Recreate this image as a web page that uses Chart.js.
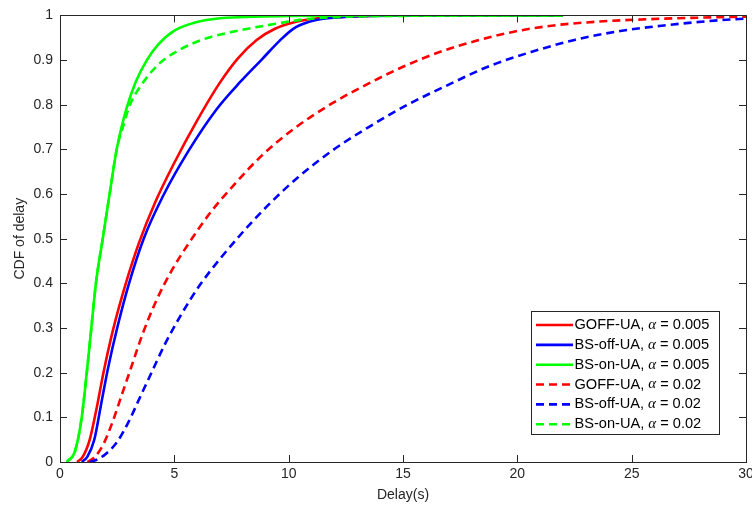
<!DOCTYPE html>
<html>
<head>
<meta charset="utf-8">
<title>CDF of delay</title>
<script src="https://cdn.jsdelivr.net/npm/chart.js@4/dist/chart.umd.min.js"></script>
<style>
  html, body { margin: 0; padding: 0; background: #ffffff; }
  #wrap { width: 752px; height: 514px; position: relative; }
</style>
</head>
<body>
<div id="wrap"><canvas id="cdf"></canvas></div>
<script>
// Delay samples (s) and CDF values for each scheme
const goffA005X  = [0.75, 1.0, 1.3, 1.6, 1.9, 2.33, 2.85, 3.45, 4.15, 5.0, 6.0, 7.0, 7.8, 8.6, 9.4, 10.2, 11.2, 12.5, 15, 22];
const goffA005Y  = [0, 0.012, 0.05, 0.12, 0.2, 0.298, 0.395, 0.49, 0.58, 0.67, 0.765, 0.85, 0.905, 0.945, 0.97, 0.984, 0.993, 0.997, 1, 1];

const bsOffA005X = [0.95, 1.2, 1.5, 1.8, 2.1, 2.5, 3.02, 3.66, 4.5, 5.6, 6.85, 7.9, 8.8, 9.6, 10.2, 10.8, 11.6, 13, 16, 22];
const bsOffA005Y = [0, 0.012, 0.05, 0.13, 0.21, 0.3, 0.4, 0.5, 0.595, 0.695, 0.79, 0.852, 0.9, 0.943, 0.97, 0.984, 0.993, 0.998, 1, 1];

const bsOnA005X  = [0.3, 0.66, 0.95, 1.17, 1.37, 1.57, 1.87, 2.17, 2.48, 2.9, 3.3, 3.8, 4.3, 5.0, 5.9, 7.1, 8.5, 10, 14, 22];
const bsOnA005Y  = [0, 0.025, 0.1, 0.2, 0.3, 0.4, 0.5, 0.6, 0.7, 0.79, 0.85, 0.9, 0.935, 0.966, 0.984, 0.994, 0.997, 0.999, 1, 1];

const goffA02X   = [1.2, 1.5, 1.9, 2.3, 2.7, 3.1, 3.6, 4.2, 4.9, 5.7, 6.6, 7.6, 8.8, 10.2, 11.8, 13.4, 15.0, 16.6, 18.2, 19.8, 21.5, 23.5, 25.5, 28, 30];
const goffA02Y   = [0, 0.01, 0.04, 0.09, 0.15, 0.21, 0.285, 0.36, 0.43, 0.495, 0.56, 0.62, 0.685, 0.745, 0.80, 0.845, 0.885, 0.918, 0.943, 0.963, 0.977, 0.986, 0.991, 0.995, 0.997];

const bsOffA02X  = [1.3, 1.6, 2.0, 2.5, 3.0, 3.5, 4.0, 4.6, 5.3, 6.1, 7.0, 8.0, 9.1, 10.4, 11.9, 13.5, 15.2, 17.0, 18.8, 20.6, 22.5, 24.5, 26.5, 28.3, 30];
const bsOffA02Y  = [0, 0.005, 0.018, 0.045, 0.09, 0.145, 0.2, 0.265, 0.33, 0.395, 0.455, 0.515, 0.575, 0.637, 0.697, 0.75, 0.80, 0.845, 0.887, 0.918, 0.945, 0.965, 0.978, 0.987, 0.993];

const bsOnA02X   = [0.3, 0.66, 0.95, 1.17, 1.37, 1.57, 1.87, 2.17, 2.48, 2.75, 3.06, 3.5, 4.3, 5.2, 6.3, 7.8, 9.3, 10.5, 12, 15, 22];
const bsOnA02Y   = [0, 0.025, 0.1, 0.2, 0.3, 0.4, 0.5, 0.6, 0.7, 0.75, 0.80, 0.84, 0.89, 0.922, 0.947, 0.966, 0.98, 0.99, 0.996, 0.999, 1];

const seriesNames  = ['GOFF-UA', 'BS-off-UA', 'BS-on-UA', 'GOFF-UA', 'BS-off-UA', 'BS-on-UA'];
const seriesAlphas = ['0.005', '0.005', '0.005', '0.02', '0.02', '0.02'];
const xTickValues  = [0, 5, 10, 15, 20, 25, 30];
const yTickValues  = [0, 0.1, 0.2, 0.3, 0.4, 0.5, 0.6, 0.7, 0.8, 0.9, 1];

const seriesX = [goffA005X, bsOffA005X, bsOnA005X, goffA02X, bsOffA02X, bsOnA02X];
const seriesY = [goffA005Y, bsOffA005Y, bsOnA005Y, goffA02Y, bsOffA02Y, bsOnA02Y];
const seriesColors = ['#ff0000', '#0000ff', '#00ff00', '#ff0000', '#0000ff', '#00ff00'];
const dashPattern = [8, 5];

const AXIS = '#262626';
const SANS = '"Liberation Sans", Arial, Helvetica, sans-serif';

const datasets = seriesX.map((xs, i) => ({
  label: seriesNames[i] + ', \u03b1 = ' + seriesAlphas[i],
  data: xs.map((x, k) => ({ x: x, y: seriesY[i][k] })),
  borderColor: seriesColors[i],
  backgroundColor: seriesColors[i],
  borderWidth: 2.6,
  borderDash: i >= 3 ? dashPattern : [],
  pointRadius: 0,
  fill: false,
  cubicInterpolationMode: 'monotone',
  order: seriesX.length - i
}));

// Box around the axes with inward tick marks on all four sides
const frameTicks = {
  id: 'frameTicks',
  afterDatasetsDraw(chart) {
    const { ctx, chartArea: a, scales: { x, y } } = chart;
    const len = 7;
    ctx.save();
    ctx.strokeStyle = AXIS;
    ctx.lineWidth = 1;
    ctx.beginPath();
    ctx.rect(Math.round(a.left) + 0.5, Math.round(a.top) + 0.5,
             Math.round(a.right - a.left), Math.round(a.bottom - a.top));
    xTickValues.forEach(v => {
      const px = Math.round(x.getPixelForValue(v)) + 0.5;
      ctx.moveTo(px, a.bottom); ctx.lineTo(px, a.bottom - len);
      ctx.moveTo(px, a.top); ctx.lineTo(px, a.top + len);
    });
    yTickValues.forEach(v => {
      const py = Math.round(y.getPixelForValue(v)) + 0.5;
      ctx.moveTo(a.left, py); ctx.lineTo(a.left + len, py);
      ctx.moveTo(a.right, py); ctx.lineTo(a.right - len, py);
    });
    ctx.stroke();
    ctx.restore();
  }
};

// Boxed legend in the lower right corner, with an italic alpha
const boxLegend = {
  id: 'boxLegend',
  afterDraw(chart) {
    const { ctx, chartArea: a } = chart;
    const w = 188, h = 123;
    const x0 = Math.round(a.right - 27 - w) + 0.5;
    const y0 = Math.round(a.bottom - 28 - h) + 0.5;
    ctx.save();
    ctx.fillStyle = '#ffffff';
    ctx.fillRect(x0, y0, w, h);
    ctx.strokeStyle = AXIS;
    ctx.lineWidth = 1;
    ctx.strokeRect(x0, y0, w, h);
    const rowH = 19.85;
    const firstRow = y0 + 13.5;
    const fontMain = '14.6px ' + SANS;
    const fontAlpha = 'italic 15px "Liberation Serif", "Times New Roman", serif';
    datasets.forEach((ds, i) => {
      const cy = firstRow + i * rowH;
      ctx.strokeStyle = ds.borderColor;
      ctx.lineWidth = 2.6;
      ctx.setLineDash(ds.borderDash);
      ctx.beginPath();
      ctx.moveTo(x0 + 4.5, cy);
      ctx.lineTo(x0 + 41.5, cy);
      ctx.stroke();
      ctx.setLineDash([]);
      ctx.fillStyle = '#000000';
      ctx.textBaseline = 'middle';
      let tx = x0 + 43;
      const head = seriesNames[i] + ', ';
      ctx.font = fontMain;
      ctx.fillText(head, tx, cy);
      tx += ctx.measureText(head).width;
      ctx.font = fontAlpha;
      ctx.fillText('\u03b1', tx, cy);
      tx += ctx.measureText('\u03b1').width;
      ctx.font = fontMain;
      ctx.fillText(' = ' + seriesAlphas[i], tx, cy);
    });
    ctx.restore();
  }
};

new Chart(document.getElementById('cdf'), {
  type: 'line',
  data: { datasets: datasets },
  options: {
    responsive: true,
    maintainAspectRatio: false,
    animation: false,
    events: [],
    layout: { padding: { top: 13, right: 6, bottom: 0, left: 0 } },
    plugins: { legend: { display: false }, tooltip: { enabled: false } },
    scales: {
      x: {
        type: 'linear',
        min: 0, max: 30,
        afterBuildTicks(scale) { scale.ticks = xTickValues.map(v => ({ value: v })); },
        afterFit(scale) { scale.height = 52; scale.paddingRight = 0; scale.paddingLeft = 0; },
        grid: { display: false, drawTicks: false },
        border: { display: true, color: AXIS, width: 1 },
        ticks: { color: AXIS, padding: 4, maxRotation: 0, autoSkip: false,
                 font: { family: SANS, size: 14 } },
        title: { display: true, text: 'Delay(s)', color: AXIS,
                 font: { family: SANS, size: 14 }, padding: { top: 0, bottom: 10 } }
      },
      y: {
        type: 'linear',
        min: 0, max: 1,
        afterBuildTicks(scale) { scale.ticks = yTickValues.map(v => ({ value: v })); },
        afterFit(scale) { scale.width = 60; },
        grid: { display: false, drawTicks: false },
        border: { display: true, color: AXIS, width: 1 },
        ticks: { color: AXIS, padding: 7, autoSkip: false,
                 font: { family: SANS, size: 14 },
                 callback: v => String(Math.round(v * 10) / 10) },
        title: { display: true, text: 'CDF of delay', color: AXIS,
                 font: { family: SANS, size: 14 }, padding: { top: 12, bottom: 0 } }
      }
    }
  },
  plugins: [frameTicks, boxLegend]
});
</script>
</body>
</html>
